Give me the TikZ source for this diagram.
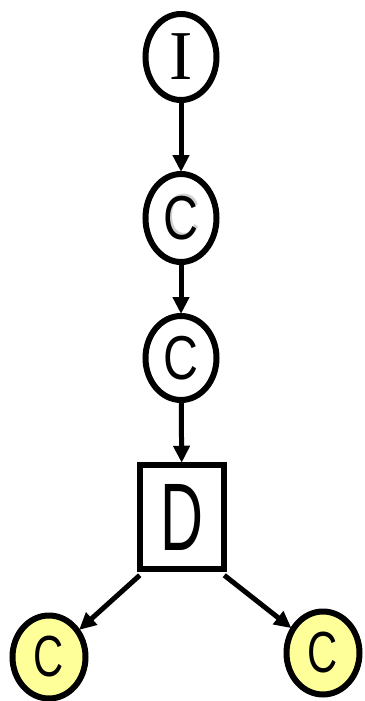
\documentclass[tikz,border=0pt]{standalone}
\usepackage{fontspec}
\setmainfont{Liberation Serif}
\setsansfont{Liberation Sans}
\usetikzlibrary{shapes.geometric,arrows.meta}
\definecolor{leafyellow}{HTML}{FFFF99}
\tikzset{
  oval/.style={ellipse, draw=black, line width=6pt, fill=white,
    minimum width=#1, inner sep=0pt},
  bubble/.style={oval=71pt, minimum height=86pt},
  leaf/.style={oval=73pt, minimum height=83pt, fill=leafyellow},
  dbox/.style={rectangle, draw=black, line width=6.5pt, fill=white,
    minimum width=84pt, minimum height=104pt, inner sep=0pt},
  link/.style={line width=5pt, -{Triangle[length=17pt,width=16pt]}, shorten >=-1pt},
  letter/.style={font=\sffamily\fontsize{62}{62}\selectfont, xscale=0.78},
  leafletter/.style={font=\sffamily\fontsize{58}{58}\selectfont, xscale=0.72},
}
\begin{document}
\begin{tikzpicture}[x=1pt,y=-1pt]
  \useasboundingbox (0,0) rectangle (364,701);
  % chain of nodes
  \node[bubble] (i) at (181,57) {};
  \node[font=\rmfamily\fontsize{70}{70}\selectfont] at (i.center) {I};
  \node[bubble, minimum height=88pt] (c1) at (181,218) {};
  \node[letter, text=black!18] at ([shift={(2pt,2pt)}]c1.center) {C};
  \node[letter] at (c1.center) {C};
  \node[bubble, minimum height=84pt] (c2) at (181,358) {};
  \node[letter] at (c2.center) {C};
  \node[dbox] (d) at (182,517) {};
  \node[font=\sffamily\fontsize{96}{96}\selectfont, xscale=0.62] at (d.center) {D};
  % yellow leaves
  \node[leaf] (l) at (49,657) {};
  \node[leafletter] at (l.center) {C};
  \node[leaf] (r) at (323,653) {};
  \node[leafletter] at (r.center) {C};
  % connectors
  \draw[link] (i) -- (c1);
  \draw[link] (c1) -- (c2);
  \draw[link] (c2) -- (d);
  \draw[link] (d.south west) ++(3pt,-3pt) coordinate (dl) -- (l);
  \draw[link] (d.south east) ++(-3pt,-3pt) coordinate (dr) -- (r);
\end{tikzpicture}
\end{document}
